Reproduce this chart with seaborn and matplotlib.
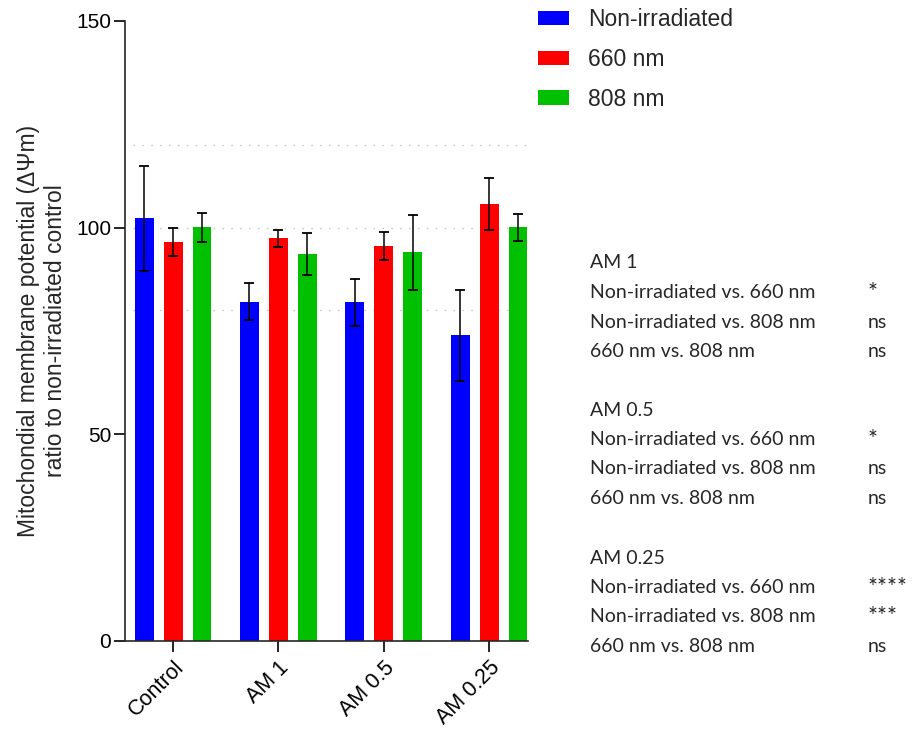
import matplotlib
matplotlib.use("Agg")
import matplotlib.pyplot as plt
import seaborn as sns
import pandas as pd

# ---- data -------------------------------------------------------------
groups = ["Control", "AM 1", "AM 0.5", "AM 0.25"]
conditions = ["Non-irradiated", "660 nm", "808 nm"]

non_irradiated_mean = [102.3, 82.1, 81.9, 74.0]
non_irradiated_sd = [12.7, 4.4, 5.8, 11.0]
nm660_mean = [96.5, 97.4, 95.6, 105.7]
nm660_sd = [3.4, 2.0, 3.4, 6.3]
nm808_mean = [100.1, 93.6, 94.0, 100.1]
nm808_sd = [3.5, 5.0, 9.1, 3.3]

colors = ["#0000FF", "#FF0000", "#00C000"]

y_ticks = [0, 50, 100, 150]
reference_levels = [80, 100, 120]

stat_groups = ["AM 1", "AM 0.5", "AM 0.25"]
comparisons = ["Non-irradiated vs. 660 nm",
               "Non-irradiated vs. 808 nm",
               "660 nm vs. 808 nm"]
significance = [["*", "ns", "ns"],
                ["*", "ns", "ns"],
                ["****", "***", "ns"]]

# ---- tidy table -------------------------------------------------------
means = [non_irradiated_mean, nm660_mean, nm808_mean]
sds = [non_irradiated_sd, nm660_sd, nm808_sd]
rows = []
for cond, m_list, s_list in zip(conditions, means, sds):
    for g, m, s in zip(groups, m_list, s_list):
        rows.append({"group": g, "condition": cond, "value": m, "sd": s})
df = pd.DataFrame(rows)

# ---- style ------------------------------------------------------------
sns.set_style("ticks")
plt.rcParams["font.family"] = ["Liberation Sans", "DejaVu Sans"]
plt.rcParams["axes.linewidth"] = 1.2

W, H = 913, 730
fig = plt.figure(figsize=(W / 100, H / 100), dpi=100)
ax = fig.add_axes([125 / W, 1 - 641 / H, 403 / W, 620 / H])

sns.barplot(data=df, x="group", y="value", hue="condition",
            order=groups, hue_order=conditions, palette=colors,
            width=0.825, gap=0.345, errorbar=None, saturation=1,
            linewidth=0, ax=ax)

# SD error bars at the centre of each bar
for cont, cond in zip(ax.containers, conditions):
    sub = df[df["condition"] == cond].set_index("group").loc[groups]
    xs = [b.get_x() + b.get_width() / 2 for b in cont]
    ax.errorbar(xs, sub["value"], yerr=sub["sd"], fmt="none",
                ecolor="black", elinewidth=1.1, capsize=3.6,
                capthick=1.3, zorder=5)

# dotted reference lines
for lv in reference_levels:
    ax.axhline(lv, xmin=0.02, xmax=1.0, color="#c8c8c8", lw=1.0,
               dashes=(1.1, 5.3), zorder=0)

ax.set_xlim(-0.456, 3.37)
ax.set_ylim(0, 150)
ax.set_yticks(y_ticks)
ax.tick_params(axis="both", length=8, width=1.2, labelsize=15,
               color="black", labelcolor="black")
ax.tick_params(axis="x", labelsize=15.5)
ax.tick_params(axis="y", pad=2)
ax.set_xlabel("")
for lab in ax.get_xticklabels():
    lab.set_rotation(45)
    lab.set_ha("right")
    lab.set_rotation_mode("anchor")
sns.despine(ax=ax)

ax.set_ylabel("Mitochondial membrane potential (\u0394\u03A8m)\n"
              "ratio to non-irradiated control",
              fontsize=16.5, linespacing=1.2)
ax.yaxis.set_label_coords(-0.145, 0.5)

# legend in the top-right corner
handles, labels = ax.get_legend_handles_labels()
if ax.legend_ is not None:
    ax.legend_.remove()
fig.legend(handles, labels, loc="upper left",
           bbox_to_anchor=(538 / W, 1 - 8 / H), frameon=False,
           fontsize=16.5, handlelength=1.35, handleheight=0.61,
           handletextpad=0.83, labelspacing=0.74, borderpad=0,
           borderaxespad=0)

# multiple-comparison summary
block_top = [263, 410, 558]
row_step = 29.5
fs = 14
for y0, grp, sig in zip(block_top, stat_groups, significance):
    fig.text(590 / W, 1 - y0 / H, grp, family="Lato", fontsize=fs,
             va="center", ha="left")
    for i, (cmp_, s) in enumerate(zip(comparisons, sig)):
        y = y0 + row_step * (i + 1)
        fig.text(590 / W, 1 - y / H, cmp_, family="Lato", fontsize=fs,
                 va="center", ha="left")
        is_star = set(s) == {"*"}
        fig.text(868 / W, 1 - y / H, s,
                 family="Lato", fontsize=fs + 3 if is_star else fs,
                 va="center", ha="left")

fig.savefig("out.png", dpi=100)
